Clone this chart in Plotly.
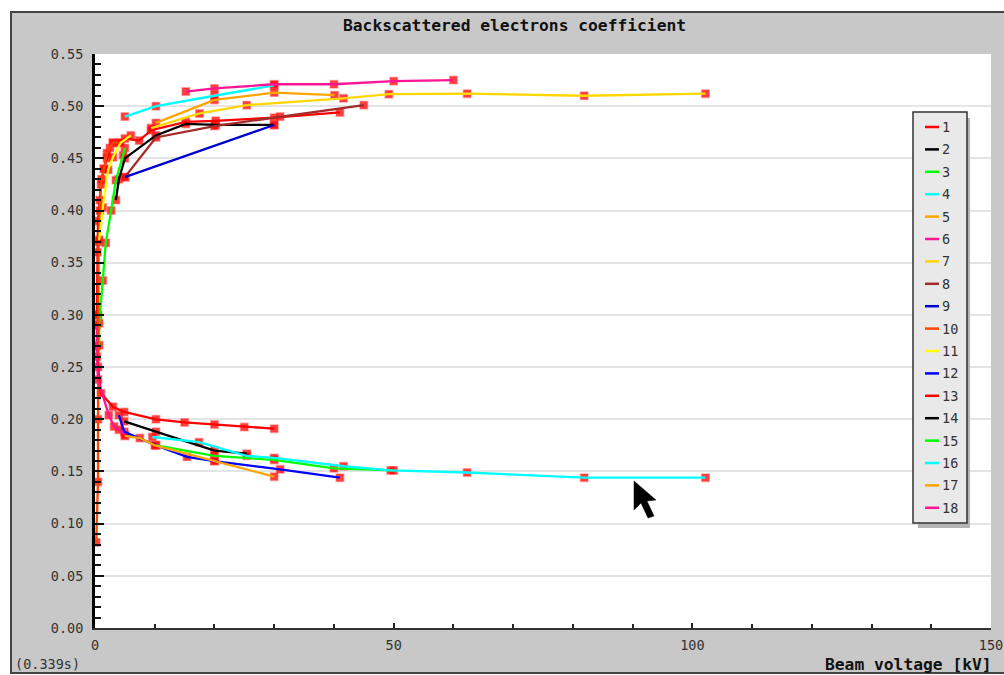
import plotly.graph_objects as go

TITLE = "Backscattered electrons coefficient"
XTITLE = "Beam voltage [kV]"
TIMING = "(0.339s)"
NAMES = [str(i) for i in range(1, 19)]
COLORS = ["#ff0000", "#000000", "#00ff00", "#00ffff", "#ffa500", "#ff1493", "#ffd700", "#a52a2a", "#0000cd",
          "#ff4500", "#ffff00", "#0000ff", "#ff0000", "#000000", "#00ff00", "#00ffff", "#ffa500", "#ff1493"]

S1_X = [0.3, 0.4, 0.5, 0.8, 1.1, 1.5, 2.0, 2.5, 3.0, 4.0, 5.0, 7.4, 9.4, 15.2, 20.2, 30.0, 41.0]
S1_Y = [0.30, 0.36, 0.39, 0.41, 0.43, 0.44, 0.45, 0.46, 0.465, 0.465, 0.469, 0.467, 0.477, 0.485, 0.486, 0.489, 0.494]
S2_X = [3.5, 4.0, 5.0, 10.2, 15.2, 20.2, 30.0]
S2_Y = [0.41, 0.43, 0.45, 0.472, 0.483, 0.482, 0.482]
S3_X = [0.7, 0.7, 1.3, 1.8, 2.7, 3.5, 4.7, 5.0]
S3_Y = [0.271, 0.292, 0.333, 0.369, 0.40, 0.429, 0.453, 0.46]
S4_X = [5.0, 10.2, 20.0, 30.0]
S4_Y = [0.490, 0.500, 0.510, 0.520]
S5_X = [10.2, 20.0, 30.0, 40.1]
S5_Y = [0.484, 0.506, 0.513, 0.5105]
S6_X = [15.2, 20.0, 30.0, 40.0, 50.0, 60.0]
S6_Y = [0.514, 0.517, 0.521, 0.521, 0.524, 0.525]
S7_X = [9.4, 17.5, 25.4, 41.6, 49.2, 62.3, 81.9, 102.2]
S7_Y = [0.479, 0.493, 0.501, 0.5075, 0.5115, 0.512, 0.510, 0.512]
S8_X = [5.0, 10.2, 20.0, 31.0, 45.0]
S8_Y = [0.432, 0.470, 0.481, 0.490, 0.501]
S9_X = [5.0, 30.0]
S9_Y = [0.432, 0.482]
S10_X = [0.2, 0.5, 0.5, 0.5, 0.6, 0.8, 1.0, 1.5, 2.0, 3.0, 4.0]
S10_Y = [0.082, 0.14, 0.20, 0.30, 0.37, 0.40, 0.425, 0.44, 0.455, 0.465, 0.465]
S11_X = [0.7, 1.3, 2.2, 3.0, 4.3, 6.0]
S11_Y = [0.372, 0.403, 0.439, 0.451, 0.465, 0.472]
S12_X = [4.0, 4.9, 10.2, 15.4, 20.0, 31.0, 41.0]
S12_Y = [0.204, 0.188, 0.175, 0.164, 0.160, 0.152, 0.144]
S13_X = [0.3, 0.5, 1.0, 3.0, 4.9, 10.2, 15.0, 20.0, 25.0, 30.0]
S13_Y = [0.27, 0.25, 0.225, 0.212, 0.207, 0.200, 0.197, 0.195, 0.1925, 0.191]
S14_X = [4.9, 10.2, 20.0, 25.4]
S14_Y = [0.198, 0.188, 0.170, 0.167]
S15_X = [10.2, 20.0, 30.0, 40.0, 50.0]
S15_Y = [0.175, 0.165, 0.161, 0.153, 0.151]
S16_X = [9.6, 17.4, 25.4, 30.0, 41.6, 49.5, 62.3, 81.9, 102.2]
S16_Y = [0.183, 0.178, 0.165, 0.163, 0.155, 0.151, 0.149, 0.144, 0.144]
S17_X = [5.0, 7.5, 10.0, 20.0, 30.0]
S17_Y = [0.184, 0.182, 0.175, 0.160, 0.145]
S18_X = [0.3, 0.3, 0.5, 2.3, 3.2, 4.0, 5.0]
S18_Y = [0.29, 0.26, 0.238, 0.204, 0.193, 0.190, 0.185]

XS = [S1_X, S2_X, S3_X, S4_X, S5_X, S6_X, S7_X, S8_X, S9_X, S10_X, S11_X, S12_X, S13_X, S14_X, S15_X, S16_X, S17_X, S18_X]
YS = [S1_Y, S2_Y, S3_Y, S4_Y, S5_Y, S6_Y, S7_Y, S8_Y, S9_Y, S10_Y, S11_Y, S12_Y, S13_Y, S14_Y, S15_Y, S16_Y, S17_Y, S18_Y]

W, H = 1004, 675
L, R, T, B = 95, 991, 54, 628


def fx(px):
    return (px - L) / (R - L)


def fy(py):
    return (B - py) / (B - T)


fig = go.Figure()
for xs, ys in zip(XS, YS):
    fig.add_trace(go.Scatter(x=xs, y=ys, mode="markers", showlegend=False, cliponaxis=False,
                             marker=dict(symbol="square", size=7.5, color="rgba(255,0,0,0.75)",
                                         line=dict(width=1.5, color="rgba(255,60,60,0.4)"))))
for xs, ys, name, color in zip(XS, YS, NAMES, COLORS):
    fig.add_trace(go.Scatter(x=xs, y=ys, mode="lines", name=name, showlegend=False, cliponaxis=False,
                             line=dict(color=color, width=2.3)))

shapes = [
    dict(type="rect", layer="below", xref="paper", yref="paper", x0=fx(11), x1=fx(1010), y0=fy(673), y1=fy(12),
         fillcolor="#c8c8c8", line=dict(color="#444444", width=2)),
    dict(type="rect", layer="below", xref="paper", yref="paper", x0=0, x1=1, y0=0, y1=1,
         fillcolor="#ffffff", line=dict(width=0)),
    dict(type="rect", layer="above", xref="paper", yref="paper", x0=fx(918), x1=fx(970), y0=fy(528), y1=fy(118),
         fillcolor="#b4b4b4", line=dict(width=0)),
    dict(type="rect", layer="above", xref="paper", yref="paper", x0=fx(913), x1=fx(967), y0=fy(523), y1=fy(112),
         fillcolor="#e9e9e9", line=dict(color="#333333", width=1.5)),
    dict(type="path", layer="above", xref="paper", yref="paper", xsizemode="pixel", ysizemode="pixel",
         xanchor=fx(634), yanchor=fy(481),
         path="M0,0 L0,-29 L7,-22 L14,-37 L20,-35 L13,-20 L22,-19 Z", fillcolor="#000000",
         line=dict(color="#000000", width=0.5)),
]

FONT = "DejaVu Sans Mono"
annotations = [
    dict(text="<b>%s</b>" % TITLE, xref="paper", yref="paper", x=fx(514), y=fy(26), showarrow=False,
         xanchor="center", yanchor="middle", font=dict(family=FONT, size=16.3, color="#111111")),
    dict(text="<b>%s</b>" % XTITLE, xref="paper", yref="paper", x=fx(991), y=fy(664), showarrow=False,
         xanchor="right", yanchor="middle", xshift=3, font=dict(family=FONT, size=16.3, color="#111111")),
    dict(text=TIMING, xref="paper", yref="paper", x=fx(16), y=fy(664), showarrow=False,
         xanchor="left", yanchor="middle", xshift=-3, font=dict(family=FONT, size=13.5, color="#333333")),
]
for i, (name, color) in enumerate(zip(NAMES, COLORS)):
    py = 127 + 22.4 * i
    shapes.append(dict(type="line", layer="above", xref="paper", yref="paper", x0=fx(925), x1=fx(939),
                       y0=fy(py), y1=fy(py), line=dict(color=color, width=2.5)))
    annotations.append(dict(text=name, xref="paper", yref="paper", x=fx(943), y=fy(py), showarrow=False,
                            xanchor="left", yanchor="middle", xshift=-3,
                            font=dict(family=FONT, size=13.5, color="#333333")))

fig.update_layout(
    width=W, height=H, autosize=False,
    margin=dict(l=L, r=W - R, t=T, b=H - B, pad=0, autoexpand=False),
    paper_bgcolor="#ffffff", plot_bgcolor="rgba(0,0,0,0)",
    showlegend=False, shapes=shapes, annotations=annotations,
    xaxis=dict(range=[0, 150], tick0=0, dtick=50, showgrid=False, zeroline=False,
               showline=True, linecolor="#333333", linewidth=1.5,
               ticks="inside", ticklen=5, tickwidth=1.5, tickcolor="#222222",
               ticklabelstandoff=4,
               minor=dict(dtick=10, tick0=0, ticks="inside", ticklen=4, tickwidth=1.5, tickcolor="#222222", showgrid=False),
               tickfont=dict(family=FONT, size=13.5, color="#333333")),
    yaxis=dict(range=[0, 0.55], tick0=0, dtick=0.05, tickformat=".2f", showgrid=True, gridcolor="#e4e4e4", gridwidth=2,
               zeroline=False, showline=True, linecolor="#000000", linewidth=3,
               ticks="inside", ticklen=9, tickwidth=2, tickcolor="#111111",
               ticklabelstandoff=6,
               minor=dict(dtick=0.01, tick0=0, ticks="inside", ticklen=6, tickwidth=2, tickcolor="#111111", showgrid=False),
               tickfont=dict(family=FONT, size=13.5, color="#333333")),
)

fig.write_html("out.html", config={"displayModeBar": False}, post_script="document.body.style.margin='0';")
